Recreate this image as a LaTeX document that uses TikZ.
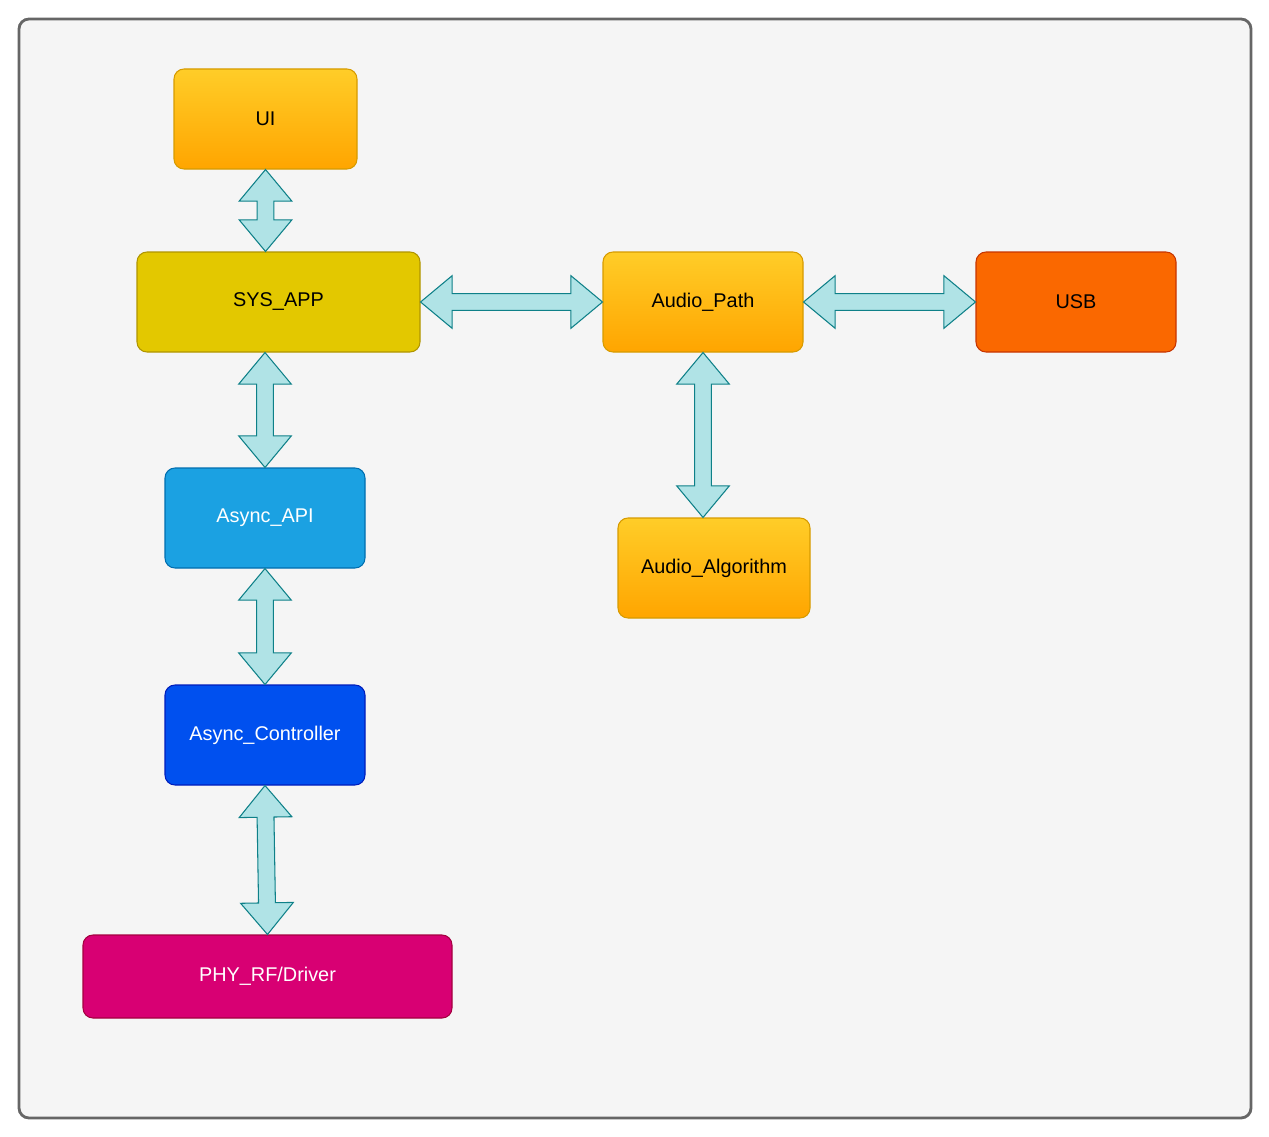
\documentclass[tikz,border=0pt]{standalone}
\usepackage{fontspec}
\setmainfont{Liberation Sans}
\usepackage{xcolor}
\usepackage{tikz}
\usetikzlibrary{calc}
\definecolor{frameline}{RGB}{102,102,102}
\definecolor{frameback}{RGB}{245,245,245}
\definecolor{orgtop}{RGB}{255,205,40}
\definecolor{orgbot}{RGB}{255,165,0}
\definecolor{orgline}{RGB}{215,155,0}
\definecolor{sysfill}{RGB}{227,200,0}
\definecolor{sysline}{RGB}{176,149,0}
\definecolor{usbfill}{RGB}{250,104,0}
\definecolor{usbline}{RGB}{199,53,0}
\definecolor{apifill}{RGB}{27,161,226}
\definecolor{apiline}{RGB}{0,110,175}
\definecolor{ctlfill}{RGB}{0,80,239}
\definecolor{ctlline}{RGB}{0,29,188}
\definecolor{phyfill}{RGB}{216,0,115}
\definecolor{phyline}{RGB}{165,0,64}
\definecolor{arrfill}{RGB}{176,227,230}
\definecolor{arrline}{RGB}{14,128,136}
% fat two-headed arrow from node anchor to node anchor
\newcommand{\fatlink}[2]{%
  \draw[fatarrow] let \p1=(#1), \p2=(#2),
    \n1={atan2(\y2-\y1,\x2-\x1)}, \n2={veclen(\x2-\x1,\y2-\y1)} in
    [shift={(\p1)}, rotate=\n1]
    (0pt,0pt) -- (18pt,15pt) -- (18pt,4.8pt) -- (\n2-18pt,4.8pt) -- (\n2-18pt,15pt)
    -- (\n2,0pt) -- (\n2-18pt,-15pt) -- (\n2-18pt,-4.8pt) -- (18pt,-4.8pt) -- (18pt,-15pt) -- cycle;}

\begin{document}
\begin{tikzpicture}[
    block/.style={draw,rounded corners=0.2cm,line width=0.6pt,minimum width=4cm,minimum height=2cm,inner sep=0pt,font=\fontsize{11.3}{13.5}\selectfont},
    orange/.style={block,draw=orgline,top color=orgtop,bottom color=orgbot},
    fatarrow/.style={draw=arrline,fill=arrfill,line width=0.6pt,line join=miter}]
  \useasboundingbox (0,0) rectangle (25.38,-22.72);
  \draw[frameline,fill=frameback,line width=1.6pt,rounded corners=0.2cm] (0.38,-0.38) rectangle (25.02,-22.36);

  \node[orange,minimum width=3.66cm] (ui) at (5.31,-2.38) {UI};
  \node[block,draw=sysline,fill=sysfill,minimum width=5.66cm] (sys) at (5.57,-6.04) {SYS\_APP};
  \node[orange] (path) at (14.06,-6.04) {Audio\_Path};
  \node[block,draw=usbline,fill=usbfill] (usb) at (21.52,-6.04) {USB};
  \node[block,draw=apiline,fill=apifill,text=white] (api) at (5.30,-10.36) {Async\_API};
  \node[orange,minimum width=3.84cm] (algo) at (14.28,-11.36) {Audio\_Algorithm};
  \node[block,draw=ctlline,fill=ctlfill,text=white] (ctl) at (5.30,-14.70) {Async\_Controller};
  \node[block,draw=phyline,fill=phyfill,text=white,minimum width=7.38cm,minimum height=1.66cm] (phy) at (5.35,-19.53) {PHY\_RF/Driver};

  \fatlink{ui.south}{ui.south |- sys.north}
  \fatlink{api.north |- sys.south}{api.north}
  \fatlink{sys.east}{path.west}
  \fatlink{path.east}{usb.west}
  \fatlink{path.south}{path.south |- algo.north}
  \fatlink{api.south}{ctl.north}
  \fatlink{ctl.south}{phy.north}
\end{tikzpicture}
\end{document}
